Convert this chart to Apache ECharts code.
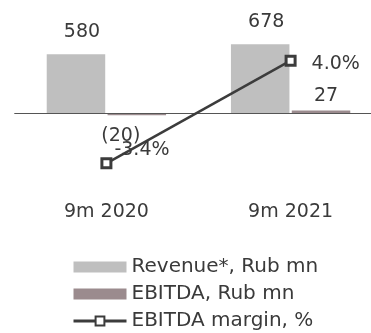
<!DOCTYPE html>
<html>
<head>
<meta charset="utf-8">
<script src="https://cdn.jsdelivr.net/npm/echarts@6/dist/echarts.min.js"></script>
<style>
  html, body { margin: 0; padding: 0; background: #ffffff; }
  #chart { width: 371px; height: 333px; }
</style>
</head>
<body>
<div id="chart"></div>
<script>
// Periods and values
const categories = ['9m 2020', '9m 2021'];
const revenue = [580, 678];          // Rub mn
const ebitda = [-20, 27];            // Rub mn
const ebitdaMargin = [-3.4, 4.0];    // %

const seriesNames = ['Revenue*, Rub mn', 'EBITDA, Rub mn', 'EBITDA margin, %'];

const FONT = 'DejaVu Sans';
const TEXT = '#3a3a3a';
const C_REV = '#bfbfbf';
const C_EBITDA = '#9b8b8e';
const C_LINE = '#3c3c3c';

const chart = echarts.init(document.getElementById('chart'), null, { renderer: 'canvas' });

const ebitdaData = ebitda.map(v => ({
  value: v,
  label: v < 0
    ? { position: 'bottom', distance: 11, offset: [-16, 0] }
    : { position: 'top', distance: 6, offset: [5, 1] }
}));

const marginData = ebitdaMargin.map(v => ({
  value: v,
  label: v < 0
    ? { position: 'right', distance: 2, offset: [0, -13] }
    : { position: 'right', distance: 15, offset: [0, 3] }
}));

chart.setOption({
  animation: false,
  textStyle: { fontFamily: FONT, color: TEXT },
  grid: {
    left: 14.3, top: 11.5, width: 368.4, height: 183.24,
    containLabel: false, outerBoundsMode: 'none'
  },
  xAxis: {
    type: 'category',
    data: categories,
    axisLine: { show: false, onZero: false },
    axisTick: { show: false },
    axisLabel: { margin: 8, fontSize: 19, fontFamily: FONT, color: TEXT }
  },
  yAxis: [
    { type: 'value', min: -800, max: 1000, show: false, splitLine: { show: false } },
    { type: 'value', min: -5.668, max: 7.548, show: false, splitLine: { show: false } }
  ],
  legend: {
    orient: 'vertical',
    left: 72,
    top: 257,
    padding: 0,
    itemGap: 7,
    itemWidth: 53,
    itemHeight: 11,
    data: [
      { name: seriesNames[0], icon: 'rect' },
      { name: seriesNames[1], icon: 'rect' },
      { name: seriesNames[2], lineStyle: { width: 3 } }
    ],
    textStyle: { fontSize: 20, lineHeight: 20, fontFamily: FONT, color: TEXT }
  },
  series: [
    {
      name: seriesNames[0],
      type: 'bar',
      data: revenue,
      barWidth: 58.5,
      barGap: '4%',
      itemStyle: { color: C_REV },
      label: {
        show: true, position: 'top', distance: 13, offset: [6, 0],
        fontSize: 19, fontFamily: FONT, color: TEXT
      },
      markLine: {
        silent: true,
        symbol: 'none',
        label: { show: false },
        lineStyle: { color: '#555555', width: 1, type: 'solid' },
        data: [{ yAxis: 0 }],
        z: 3
      }
    },
    {
      name: seriesNames[1],
      type: 'bar',
      data: ebitdaData,
      barWidth: 58.5,
      itemStyle: { color: C_EBITDA },
      label: {
        show: true,
        fontSize: 19, fontFamily: FONT, color: TEXT,
        formatter: p => (p.value < 0 ? '(' + Math.abs(p.value) + ')' : String(p.value))
      }
    },
    {
      name: seriesNames[2],
      type: 'line',
      yAxisIndex: 1,
      data: marginData,
      symbol: 'rect',
      symbolSize: 9,
      z: 5,
      lineStyle: { color: C_LINE, width: 2.5 },
      itemStyle: { color: '#ffffff', borderColor: C_LINE, borderWidth: 3 },
      label: {
        show: true,
        fontSize: 19, fontFamily: FONT, color: TEXT,
        formatter: p => p.value.toFixed(1) + '%'
      }
    }
  ]
});
</script>
</body>
</html>
